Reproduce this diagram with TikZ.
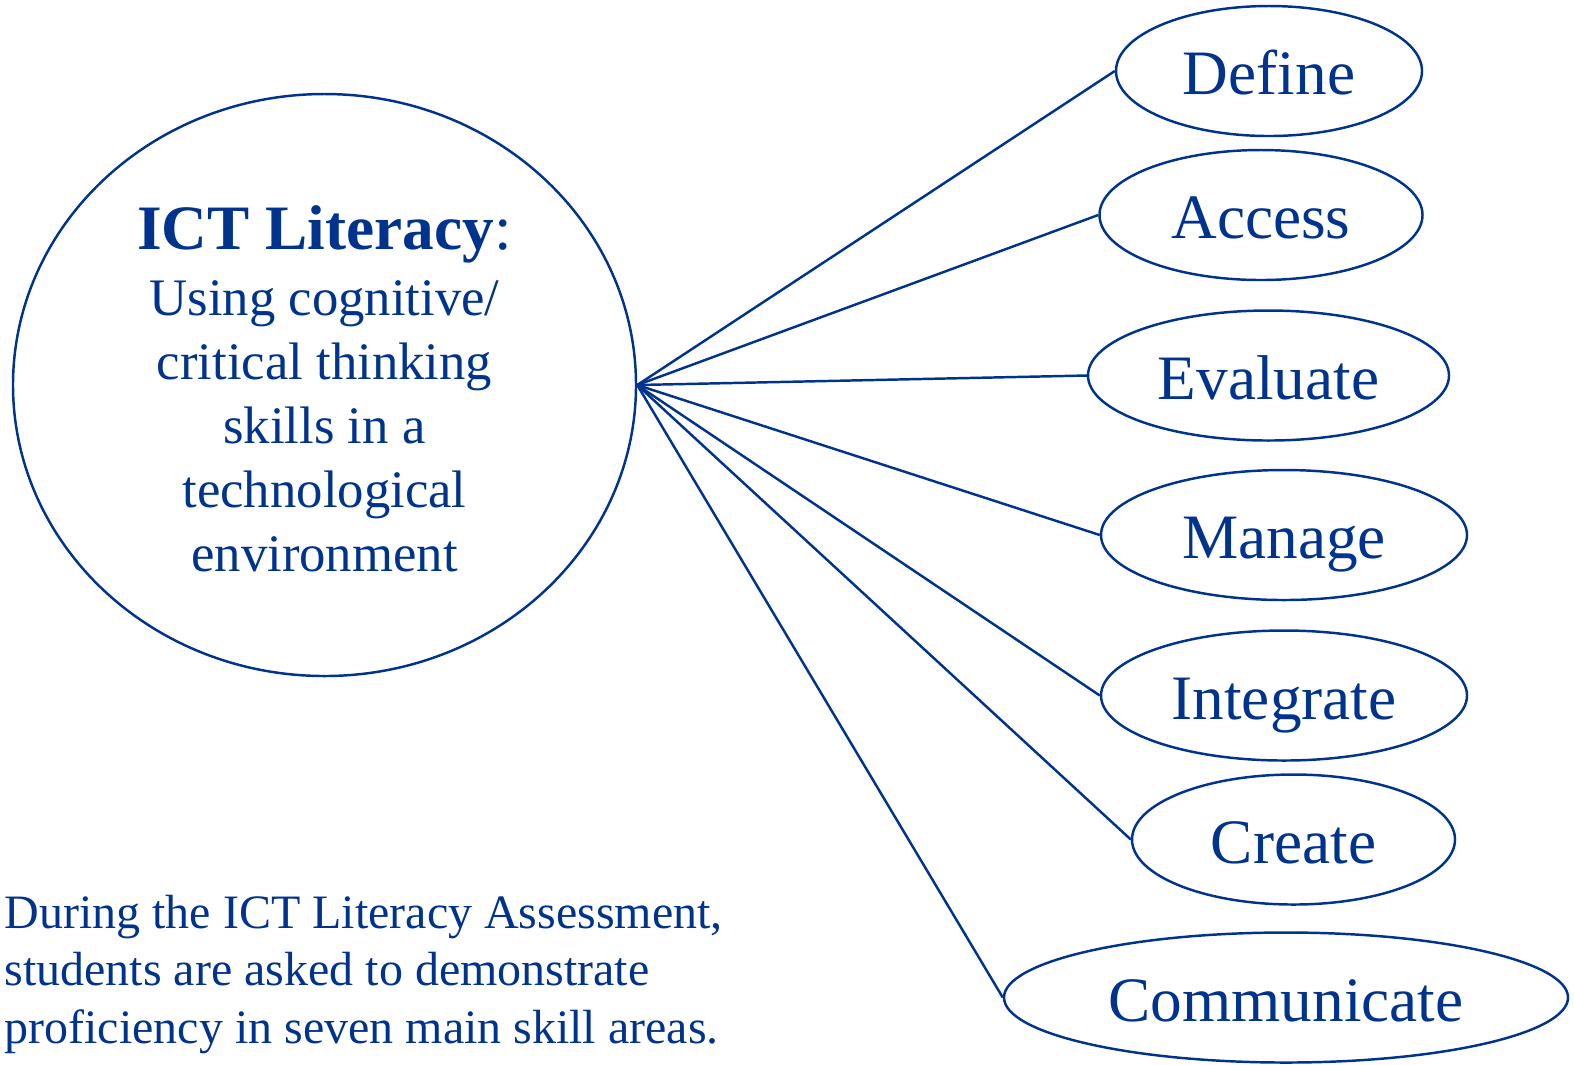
\documentclass[tikz,border=0pt]{standalone}
\usepackage{fontspec}
\setmainfont{Liberation Serif}
\usepackage{tikz}
\usetikzlibrary{positioning,shapes.geometric}

\definecolor{ictblue}{RGB}{0,51,141}

\begin{document}
\begin{tikzpicture}[
  mainnode/.style={ellipse,draw=ictblue,line width=0.7pt,inner sep=0pt,align=center,text=ictblue,
    minimum width=6.23cm,minimum height=5.82cm,font=\fontsize{15}{18.2}\selectfont},
  skillnode/.style={ellipse,draw=ictblue,line width=0.7pt,inner sep=0pt,text=ictblue,
    minimum width=#1,minimum height=1.30cm,text height=16pt,text depth=2.4pt,font=\fontsize{18}{21}\selectfont},
  links/.style={line width=0.7pt,ictblue},
  note/.style={inner sep=0pt,align=left,text=ictblue,font=\fontsize{13.65}{16.3}\selectfont},
]
\useasboundingbox (0,0) rectangle (15.74,-10.64);

% ==== ICT literacy (left) ====
\node[mainnode] (ict) at (3.245,-3.85)
  {{\fontsize{18}{22}\selectfont\rule{0pt}{14.5pt}\bfseries ICT Literacy\mdseries:}\\[0.5pt]
   Using cognitive/\\critical thinking\\skills in a\\technological\\environment};

% ==== Skill areas (right column) ====
\node[skillnode=3.06cm] (define) at (12.69,-0.71) {Define};
\node[skillnode=3.23cm] (access) at (12.61,-2.15) {Access};
\node[skillnode=3.61cm] (evaluate) at (12.685,-3.755) {Evaluate};
\node[skillnode=3.66cm] (manage) at (12.84,-5.35) {Manage};
\node[skillnode=3.66cm] (integrate) at (12.84,-6.955) {Integrate};
\node[skillnode=3.23cm] (create) at (12.935,-8.395) {Create};
\node[skillnode=5.64cm] (communicate) at (12.86,-9.975) {Communicate};

% Links from the main ellipse to each skill
\foreach \s in {define,access,evaluate,manage,integrate,create,communicate}
  \draw[links] (ict.east) -- (\s.west);

% Assessment note
\node[note,anchor=north west] (assess) at (0.04,-8.945)
  {During the ICT Literacy Assessment,\\students are asked to demonstrate\\proficiency in seven main skill areas.};

\end{tikzpicture}
\end{document}
